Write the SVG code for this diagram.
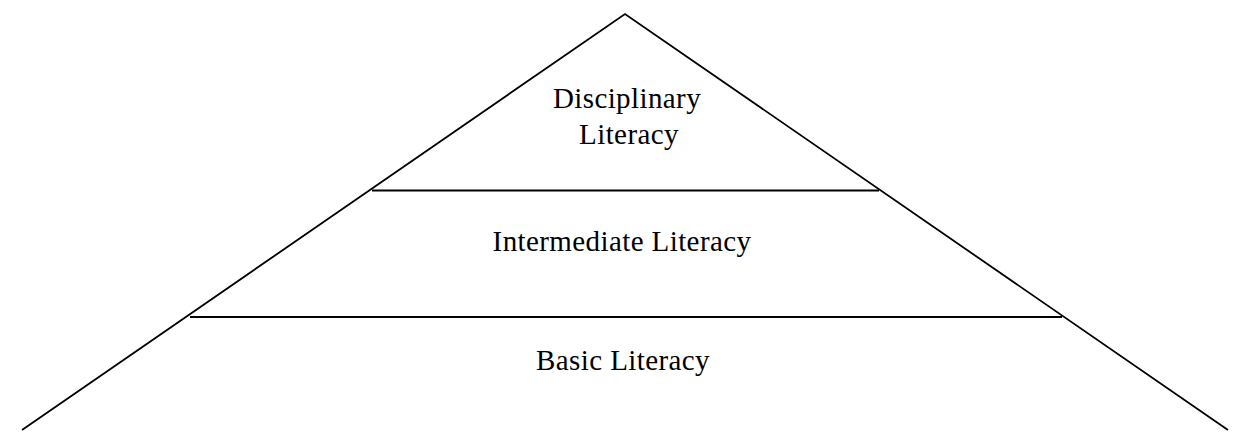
<svg xmlns="http://www.w3.org/2000/svg" width="1234" height="434" viewBox="0 0 1234 434">
<style>
.ln{stroke:#000;stroke-width:1.8;fill:none}
.t{font-family:"Liberation Serif","DejaVu Serif",serif;font-size:29px;letter-spacing:0.4px;fill:#000;text-anchor:middle}
</style>
<rect width="1234" height="434" fill="#fff"/>
<g id="connectors">
<polyline class="ln" points="22,430 625,14 1228,430"/>
<line class="ln" x1="372" y1="190.5" x2="879" y2="190.5"/>
<line class="ln" x1="190" y1="317" x2="1062" y2="317"/>
</g>
<g id="disciplinary"><text class="t" x="627" y="108">Disciplinary</text><text class="t" x="629" y="144">Literacy</text></g>
<g id="intermediate"><text class="t" x="622" y="251">Intermediate Literacy</text></g>
<g id="basic"><text class="t" x="623" y="370">Basic Literacy</text></g>
</svg>
